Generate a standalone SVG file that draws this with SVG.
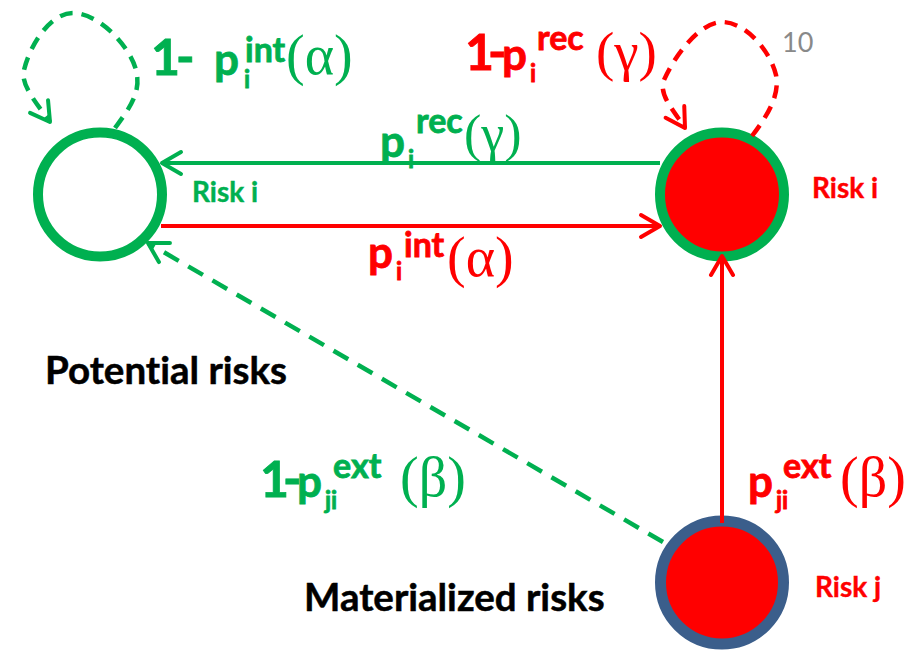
<svg xmlns="http://www.w3.org/2000/svg" width="913" height="651" viewBox="0 0 913 651">
<style>
text{font-variant-ligatures:none;font-feature-settings:"liga" 0,"clig" 0}
.s{font-family:"Lato","Liberation Sans",sans-serif;font-weight:bold;stroke-width:0.8}
.r{font-family:"Liberation Serif","DejaVu Serif",serif;font-weight:normal;stroke:none}
.g{fill:#00B050;stroke:#00B050}
.rd{fill:#FF0000;stroke:#FF0000}
.k{fill:#000000;stroke:#000000}
.ln{fill:none;stroke-width:4}
.gl{stroke:#00B050}
.rl{stroke:#FF0000}
.dl{stroke-dasharray:17 11;stroke-width:4.5}
.dloop{stroke-dasharray:13 9;stroke-width:4.5}
</style>
<defs>
<marker id="ag" viewBox="-24 -14 28 28" markerWidth="28" markerHeight="28" refX="0" refY="0" orient="auto" markerUnits="userSpaceOnUse">
<path d="M-19,-11 L0,0 L-19,11" fill="none" stroke="#00B050" stroke-width="4" stroke-linecap="round" stroke-linejoin="round"/>
</marker>
<marker id="ar" viewBox="-24 -14 28 28" markerWidth="28" markerHeight="28" refX="0" refY="0" orient="auto" markerUnits="userSpaceOnUse">
<path d="M-19,-11 L0,0 L-19,11" fill="none" stroke="#FF0000" stroke-width="4" stroke-linecap="round" stroke-linejoin="round"/>
</marker>
</defs>
<rect width="913" height="651" fill="#FFFFFF"/>

<g id="node-potential-risk-i">
<circle cx="100" cy="194.5" r="62" fill="#FFFFFF" stroke="#00B050" stroke-width="10"/>
<text class="s g" x="192" y="202" font-size="28" style="stroke-width:0.4">Risk i</text>
</g>

<g id="node-materialized-risk-i">
<circle cx="722" cy="194.5" r="62" fill="#FF0000" stroke="#00B050" stroke-width="10"/>
<text class="s rd" x="812" y="198" font-size="28" style="stroke-width:0.4">Risk i</text>
</g>

<g id="node-materialized-risk-j">
<circle cx="722" cy="582.5" r="61.5" fill="#FF0000" stroke="#3B5E8B" stroke-width="11"/>
<text class="s rd" x="815" y="597" font-size="28" style="stroke-width:0.4">Risk j</text>
</g>

<g id="connectors">
<line class="ln gl" x1="660" y1="163" x2="162" y2="163" marker-end="url(#ag)"/>
<line class="ln rl" x1="161" y1="226" x2="660" y2="226" marker-end="url(#ar)"/>
<line class="ln rl" x1="722" y1="523" x2="722" y2="256" marker-end="url(#ar)"/>
<line class="ln gl dl" x1="663" y1="542" x2="148" y2="243" marker-end="url(#ag)"/>
<path class="ln gl dloop" d="M115,128 C128,110 140,95 137,75 C134,50 100,13 73,13 C50,13 30,45 24,70 C20,85 38,105 50,122" marker-end="url(#ag)"/>
<path class="ln rl dloop" d="M752,136 C768,115 780,95 776,75 C770,50 745,22 722,22 C700,22 675,55 664,80 C658,95 675,112 685,128" marker-end="url(#ar)"/>
</g>

<g id="labels">
<text class="s g"><tspan x="151" y="75" font-size="50">1</tspan><tspan x="176" y="75" font-size="50">-</tspan><tspan x="214" y="75" font-size="44">p</tspan><tspan x="244" y="88" font-size="24">i</tspan><tspan x="245" y="62" font-size="34">int</tspan><tspan class="r" x="286" y="74" font-size="56">(α)</tspan></text>

<text class="s rd"><tspan x="465" y="70" font-size="50">1</tspan><tspan x="488" y="70" font-size="50">-</tspan><tspan x="502" y="70" font-size="44">p</tspan><tspan x="530" y="82" font-size="24">i</tspan><tspan x="537" y="50" font-size="34">rec</tspan><tspan class="r" x="596" y="70" font-size="55">(γ)</tspan></text>

<text class="s g"><tspan x="380" y="157" font-size="44">p</tspan><tspan x="408" y="168" font-size="24">i</tspan><tspan x="416" y="133" font-size="34">rec</tspan><tspan class="r" x="464" y="151" font-size="52">(γ)</tspan></text>

<text class="s rd"><tspan x="368" y="268" font-size="44">p</tspan><tspan x="396" y="280" font-size="24">i</tspan><tspan x="404" y="257" font-size="34">int</tspan><tspan class="r" x="447" y="276" font-size="56">(α)</tspan></text>

<text class="s g"><tspan x="260" y="497" font-size="50">1</tspan><tspan x="283" y="497" font-size="50">-</tspan><tspan x="297" y="497" font-size="44">p</tspan><tspan x="325" y="509" font-size="24">ji</tspan><tspan x="333" y="478" font-size="34">ext</tspan><tspan class="r" x="400" y="496" font-size="56">(β)</tspan></text>

<text class="s rd"><tspan x="748" y="497" font-size="44">p</tspan><tspan x="776" y="509" font-size="24">ji</tspan><tspan x="783" y="478" font-size="34">ext</tspan><tspan class="r" x="840" y="496" font-size="56">(β)</tspan></text>

<text class="s k" x="45" y="384" font-size="38.5" style="stroke-width:0.5">Potential risks</text>
<text class="s k" x="304" y="611" font-size="38.5" style="stroke-width:0.5">Materialized risks</text>
<text x="782" y="52" font-size="27" fill="#898989" font-family="Lato, 'Liberation Sans', sans-serif">10</text>
</g>
</svg>
